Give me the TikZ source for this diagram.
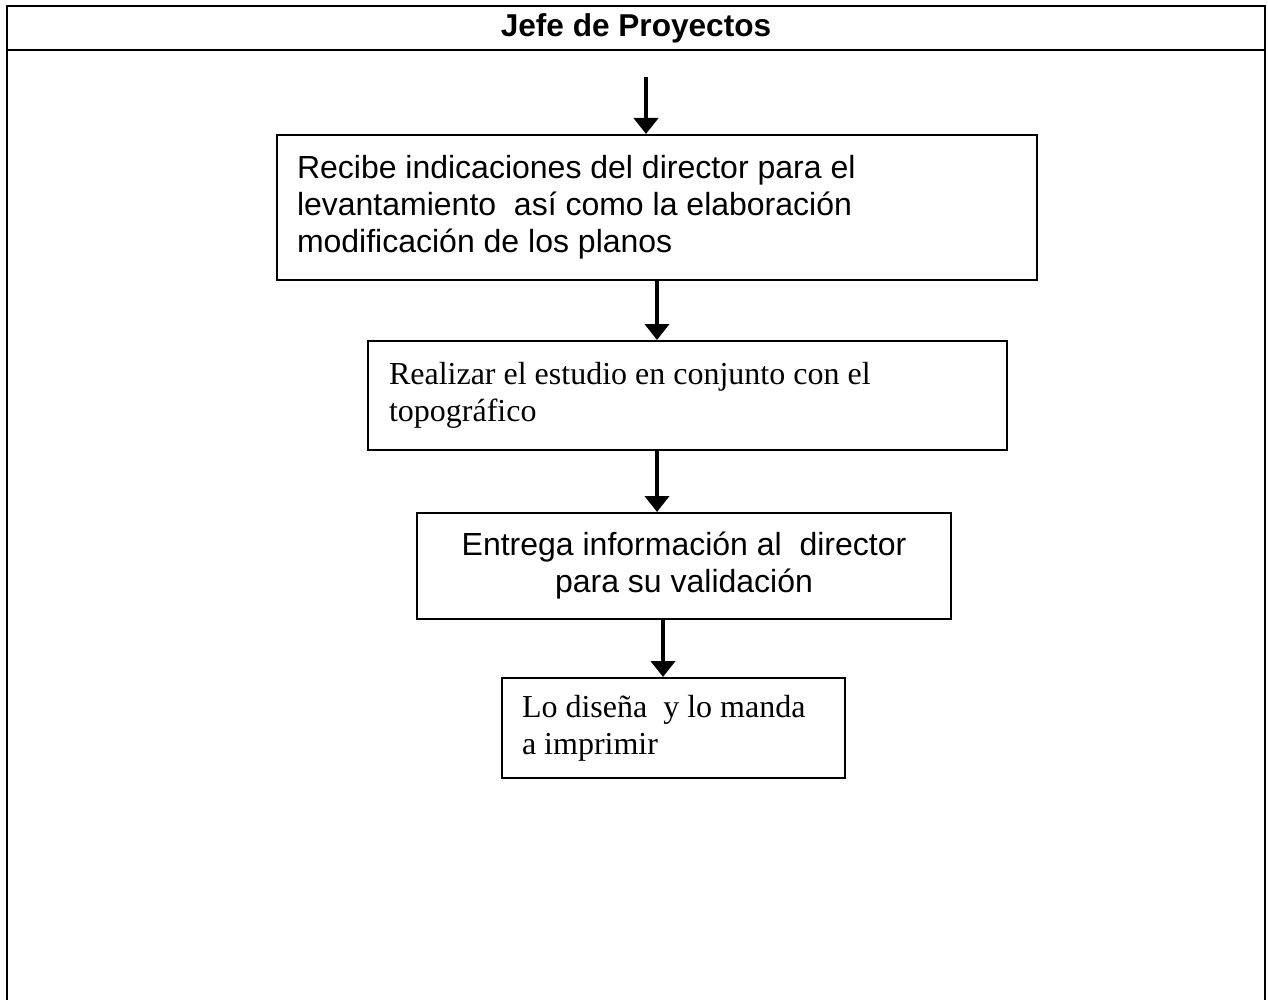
\documentclass[tikz,border=0pt]{standalone}
\usepackage{fontspec}
\setmainfont{Liberation Serif}
\setsansfont{Liberation Sans}
\usetikzlibrary{arrows.meta}

\newcommand\flowfont{\fontsize{16}{18.5}\selectfont}

\begin{document}
\begin{tikzpicture}[x=0.5pt,y=-0.5pt,
  stage/.style={draw,line width=1pt,inner xsep=10pt,inner ysep=0pt,font=\flowfont},
  flow/.style={-{Triangle[length=8pt,width=12pt]},line width=2pt}]
\useasboundingbox (0,0) rectangle (1268,1000);
% frame with the header row
\draw[line width=1pt] (7,1000) -- (7,6) -- (1265,6) -- (1265,1000);
\draw[line width=1pt] (7,50) -- (1265,50);
\node[font=\sffamily\bfseries\fontsize{15.8}{18.5}\selectfont] (title) at (636,28) {Jefe de Proyectos};
% steps
\node[stage,font=\sffamily\flowfont,text width=360pt,minimum height=72.5pt,align=flush left] (b1) at (657,207.5)
  {Recibe indicaciones del director para el\\
   levantamiento\ \ así como la elaboración\\
   modificación de los planos\\[4pt]};
\node[stage,inner xsep=10.5pt,text width=298.5pt,minimum height=54.5pt,align=flush left] (b2) at (687.5,395.5)
  {Realizar el estudio en conjunto con el\\ topográfico};
\node[stage,font=\sffamily\flowfont,text width=247pt,minimum height=53pt,align=flush center] (b3) at (684,566)
  {Entrega información al\ \ director\\ para su validación};
\node[stage,text width=151.5pt,minimum height=50pt,align=flush left] (b4) at (673.5,728)
  {Lo diseña\ \ y lo manda\\ a imprimir};
% arrows
\coordinate (in) at (646,77);
\draw[flow] (in) -- (in |- b1.north);
\draw[flow] (b1.south) -- (b1.south |- b2.north);
\draw[flow] (b2.south -| b1.south) -- (b3.north -| b1.south);
\draw[flow] ([xshift=-10.5pt]b3.south) -- ([xshift=-5.25pt]b4.north);
\end{tikzpicture}
\end{document}
